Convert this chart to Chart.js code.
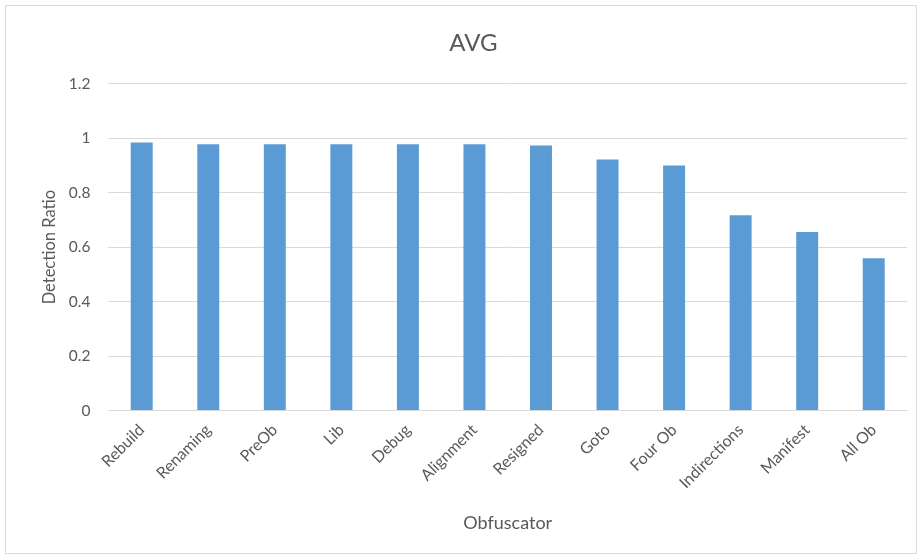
<!DOCTYPE html>
<html><head><meta charset="utf-8">
<script src="https://cdn.jsdelivr.net/npm/chart.js@4/dist/chart.umd.min.js"></script>
<style>html,body{margin:0;padding:0;background:#fff;}#wrap{width:920px;height:558px;position:relative;}</style>
</head><body><div id="wrap"><canvas id="c" width="920" height="558"></canvas></div>
<script>
const categories = ["Rebuild","Renaming","PreOb","Lib","Debug","Alignment","Resigned","Goto","Four Ob","Indirections","Manifest","All Ob"];
const avgValues = [0.984,0.978,0.978,0.978,0.978,0.978,0.973,0.922,0.900,0.717,0.656,0.559];
const yTicks = [0,0.2,0.4,0.6,0.8,1,1.2];

const FONT = "Lato, 'Open Sans', 'Liberation Sans', sans-serif";
const TXT = "#595959";
const borderPlugin = {
  id:'frame',
  beforeDraw(chart){
    const ctx = chart.ctx; ctx.save();
    ctx.fillStyle='#fff'; ctx.fillRect(0,0,chart.width,chart.height);
    ctx.strokeStyle='#d9d9d9'; ctx.lineWidth=1;
    ctx.strokeRect(5.5,5.5,chart.width-9,chart.height-10);
    ctx.restore();
  }
};
new Chart(document.getElementById('c'), {
  type:'bar',
  data:{labels:categories, datasets:[{label:'AVG', data:avgValues, backgroundColor:'#5b9bd5', barPercentage:0.33, categoryPercentage:1}]},
  options:{
    responsive:false, animation:false, devicePixelRatio:1,
    layout:{padding:{left:40,right:13,top:20,bottom:24}},
    plugins:{
      legend:{display:false}, tooltip:{enabled:false},
      title:{display:true, text:'AVG', color:TXT, font:{family:FONT,size:24,weight:'normal'}, padding:{top:9,bottom:26}}
    },
    scales:{
      y:{min:0,max:1.2,
        afterBuildTicks(s){ s.ticks = yTicks.map(v=>({value:v})); },
        ticks:{color:TXT, font:{family:FONT,size:15.5}, padding:18, callback:v=>String(v)},
        grid:{color:'#d9d9d9', drawTicks:false},
        border:{display:false},
        title:{display:true,text:'Detection Ratio',color:TXT,font:{family:FONT,size:16.5},padding:{top:0,bottom:-9}}
      },
      x:{
        ticks:{color:TXT, font:{family:FONT,size:16}, minRotation:45, maxRotation:45, padding:2},
        grid:{display:false},
        border:{display:true,color:'#d9d9d9'},
        title:{display:true,text:'Obfuscator',color:TXT,font:{family:FONT,size:18},padding:{top:18,bottom:0}}
      }
    }
  },
  plugins:[borderPlugin]
});
</script></body></html>
